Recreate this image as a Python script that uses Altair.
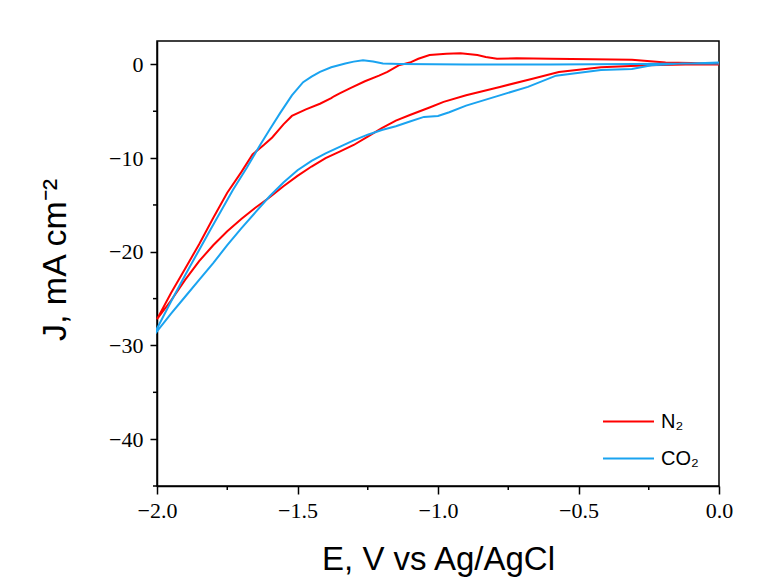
import altair as alt
import pandas as pd

# N2 cyclic voltammogram (forward then return sweep)
n2_E = [0.00, -0.10, -0.19, -0.31, -0.45, -0.60, -0.72, -0.79, -0.83, -0.86, -0.92, -0.97,
        -1.03, -1.07, -1.10, -1.14, -1.18, -1.21, -1.26, -1.31, -1.35, -1.37, -1.38, -1.42,
        -1.47, -1.52, -1.55, -1.59, -1.62, -1.66, -1.70, -1.75, -1.80, -1.85, -1.90, -1.95, -2.00,
        -1.95, -1.90, -1.85, -1.80, -1.75, -1.70, -1.65, -1.60, -1.55, -1.50, -1.45, -1.40,
        -1.35, -1.30, -1.25, -1.20, -1.15, -1.10, -1.03, -0.98, -0.90, -0.78, -0.66, -0.57,
        -0.42, -0.25, -0.12, 0.00]
n2_J = [0.05, 0.15, 0.2, 0.5, 0.55, 0.6, 0.65, 0.6, 0.8, 1.0, 1.2, 1.15,
        1.0, 0.6, 0.2, -0.1, -0.8, -1.2, -1.8, -2.5, -3.1, -3.4, -3.6, -4.2,
        -4.8, -5.5, -6.4, -7.8, -8.6, -9.6, -11.5, -13.7, -16.4, -19.2, -21.8, -24.4, -27.2,
        -25.2, -23.0, -21.0, -19.3, -17.8, -16.5, -15.3, -14.2, -13.0, -11.9, -10.9, -10.0,
        -9.3, -8.6, -7.7, -6.8, -6.0, -5.4, -4.6, -4.0, -3.3, -2.4, -1.5, -0.8,
        -0.3, -0.1, 0.0, 0.0]

# CO2 cyclic voltammogram (forward then return sweep)
co2_E = [0.00, -0.10, -0.30, -0.60, -0.90, -1.135, -1.196, -1.231, -1.267, -1.30, -1.33, -1.38,
         -1.42, -1.45, -1.48, -1.52, -1.562, -1.60, -1.633, -1.68, -1.73, -1.811, -1.85, -1.90,
         -1.95, -2.00,
         -2.00, -1.95, -1.90, -1.85, -1.80, -1.75, -1.70, -1.65, -1.60, -1.55, -1.50, -1.45,
         -1.40, -1.35, -1.30, -1.25, -1.20, -1.15, -1.10, -1.05, -1.00, -0.96, -0.90, -0.78,
         -0.68, -0.58, -0.42, -0.31, -0.24, -0.13, 0.00]
co2_J = [0.2, 0.1, 0.05, 0.0, 0.0, 0.05, 0.1, 0.3, 0.45, 0.3, 0.1, -0.3,
         -0.8, -1.3, -1.9, -3.3, -5.2, -7.0, -8.6, -11.0, -13.4, -17.7, -19.8, -22.5,
         -25.3, -28.2,
         -28.5, -26.6, -24.8, -23.0, -21.2, -19.3, -17.5, -15.8, -14.1, -12.6, -11.3, -10.3,
         -9.5, -8.8, -8.1, -7.5, -7.0, -6.6, -6.1, -5.6, -5.5, -5.1, -4.4, -3.3,
         -2.4, -1.2, -0.6, -0.5, -0.1, 0.1, 0.1]

series_names = ["N₂", "CO₂"]
series_colors = ["#FF0000", "#1AA3F0"]

x_major = [-2.0, -1.5, -1.0, -0.5, 0.0]
x_minor = [-1.75, -1.25, -0.75, -0.25]
y_major = [-40, -30, -20, -10, 0]
y_minor = [-45, -35, -25, -15, -5]

rows = []
for name, Es, Js in [(series_names[0], n2_E, n2_J), (series_names[1], co2_E, co2_J)]:
    for i, (e, j) in enumerate(zip(Es, Js)):
        rows.append({"series": name, "E": e, "J": j, "idx": i})
df = pd.DataFrame(rows)

x_scale = alt.Scale(domain=[-2.0, 0.0], nice=False, zero=False)
y_scale = alt.Scale(domain=[-45, 2.5], nice=False, zero=False)

W, H = 562, 445

x_axis = alt.Axis(
    values=x_major, format=".1f", title="E, V vs Ag/AgCl",
    labelFlush=False, labelOverlap=False, tickSize=8, labelPadding=6,
    titleX=W / 2, titleY=83, titleBaseline="alphabetic")
y_axis = alt.Axis(
    values=y_major, format="d", title="J, mA cm⁻²",
    labelFlush=False, labelOverlap=False, tickSize=7, labelPadding=7,
    titleX=-92, titleY=H / 2 - 4, titleAngle=-90, titleBaseline="alphabetic",
    titleFontSize=34)

lines = alt.Chart(df).mark_line(strokeWidth=2).encode(
    x=alt.X("E:Q", scale=x_scale, axis=x_axis),
    y=alt.Y("J:Q", scale=y_scale, axis=y_axis),
    color=alt.Color("series:N", scale=alt.Scale(domain=series_names, range=series_colors),
                    legend=alt.Legend(title=None, orient="none", legendX=445, legendY=354,
                                      symbolType="stroke", symbolSize=2600, symbolStrokeWidth=2,
                                      labelFont="Liberation Sans", labelFontSize=20,
                                      labelColor="black", labelOffset=6, padding=0,
                                      rowPadding=-11)),
    order="idx:Q",
)

xminor = alt.Chart(pd.DataFrame({"E": x_minor})).mark_rule(color="black", strokeWidth=1.5).encode(
    x=alt.X("E:Q", scale=x_scale, axis=x_axis),
    y=alt.value(H), y2=alt.value(H + 4),
)
yminor = alt.Chart(pd.DataFrame({"J": y_minor})).mark_rule(color="black", strokeWidth=1.5).encode(
    y=alt.Y("J:Q", scale=y_scale, axis=y_axis),
    x=alt.value(-4), x2=alt.value(0),
)

chart = alt.layer(lines, xminor, yminor).properties(
    width=W, height=H,
    padding={"left": 149, "top": 33, "right": 40, "bottom": 92},
    autosize=alt.AutoSizeParams(type="none"),
    background="white",
).configure_view(
    stroke="black", strokeWidth=1.5
).configure_axis(
    grid=False, domainColor="black", domainWidth=1.5, tickColor="black", tickWidth=1.5,
    labelFont="Liberation Serif", labelFontSize=22, labelColor="black",
    titleFont="Liberation Sans", titleFontSize=33, titleFontWeight="normal", titleColor="black",
)

chart.save("out.html", embed_options={"renderer": "svg", "actions": False})
